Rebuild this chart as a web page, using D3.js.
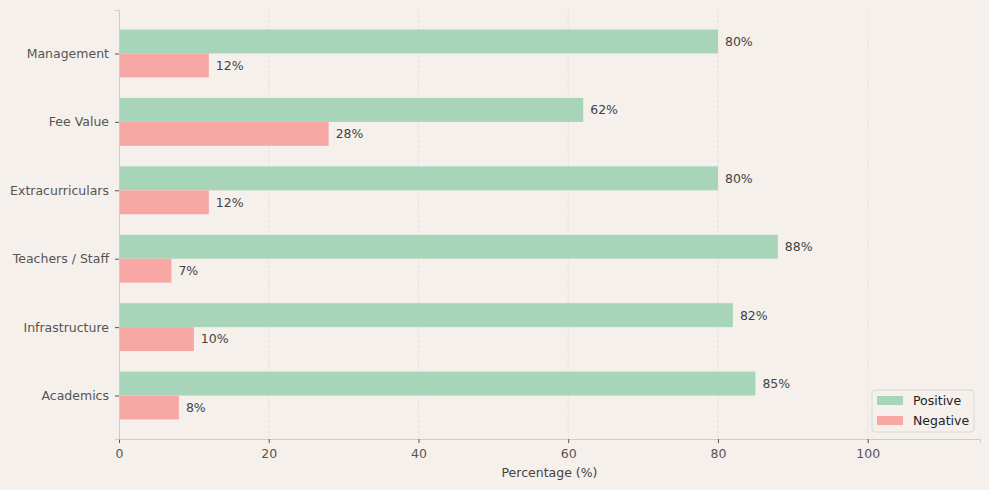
<!DOCTYPE html>
<meta charset="utf-8">
<title>Sentiment by Category</title>
<script src="https://cdn.jsdelivr.net/npm/d3@7"></script>
<style>
  html,body{margin:0;background:#f5f0eb;font-family:"DejaVu Sans",sans-serif}
  svg{display:block}
  .tick text{font-size:12.5px;fill:#555}
  .lbl{font-size:12.5px;fill:#444}
</style>
<svg width="989" height="490"></svg>
<script>
// data, bottom to top like the reference
const categories = ['Academics','Infrastructure','Teachers / Staff','Extracurriculars','Fee Value','Management'];
const positive   = [85, 82, 88, 80, 62, 80];
const negative   = [8, 10, 7, 12, 28, 12];
const xTicks     = [0, 20, 40, 60, 80, 100];

const W = 989, H = 490;
const m = {l:119, r:9, t:10, b:51};
const bh = 0.35;

const svg = d3.select('svg');
const x = d3.scaleLinear().domain([0,115]).range([m.l, W-m.r]);
// index scale, matplotlib style margins
const y = d3.scaleLinear().domain([-0.635, categories.length-1+0.635]).range([H-m.b, m.t]);

// grid
svg.append('g').selectAll('line').data(xTicks.slice(1)).join('line')
  .attr('x1',d=>x(d)).attr('x2',d=>x(d)).attr('y1',m.t).attr('y2',H-m.b)
  .attr('stroke','#e0dcdc').attr('stroke-dasharray','3,2').attr('stroke-width',0.8);

const rows = categories.map((c,i)=>({c,i,p:positive[i],n:negative[i]}));
const ppx = Math.abs(y(0)-y(bh));

// positive bars (upper)
svg.append('g').selectAll('rect').data(rows).join('rect')
  .attr('x',x(0)).attr('y',d=>y(d.i+bh))
  .attr('width',d=>x(d.p)-x(0)).attr('height',ppx)
  .attr('fill','#a8d5ba');
// negative bars (lower)
svg.append('g').selectAll('rect').data(rows).join('rect')
  .attr('x',x(0)).attr('y',d=>y(d.i))
  .attr('width',d=>x(d.n)-x(0)).attr('height',ppx)
  .attr('fill','#f7a8a4');

// value labels
svg.append('g').selectAll('text').data(rows).join('text')
  .attr('class','lbl').attr('x',d=>x(d.p)+7).attr('y',d=>y(d.i+bh/2))
  .attr('dy','0.35em').text(d=>d.p+'%');
svg.append('g').selectAll('text').data(rows).join('text')
  .attr('class','lbl').attr('x',d=>x(d.n)+7).attr('y',d=>y(d.i-bh/2))
  .attr('dy','0.35em').text(d=>d.n+'%');

// axes
const gx = svg.append('g').attr('transform',`translate(0,${H-m.b})`)
  .call(d3.axisBottom(x).tickValues(xTicks).tickSize(4).tickPadding(6));
gx.select('.domain').attr('stroke','#cccccc');
gx.selectAll('.tick line').attr('stroke','#555');

const gy = svg.append('g').attr('transform',`translate(${m.l},0)`)
  .call(d3.axisLeft(y).tickValues(d3.range(categories.length)).tickFormat(i=>categories[i]).tickSize(4).tickPadding(6));
gy.select('.domain').attr('stroke','#cccccc');
gy.selectAll('.tick line').attr('stroke','#555');
svg.selectAll('.tick text').attr('font-family','DejaVu Sans');

svg.append('text').attr('x',(m.l+W-m.r)/2).attr('y',477)
  .attr('text-anchor','middle').attr('font-size',12.5).attr('fill','#444')
  .text('Percentage (%)');

// legend
const lg = svg.append('g').attr('transform','translate(872,390)');
lg.append('rect').attr('width',102).attr('height',42).attr('rx',3)
  .attr('fill','#f5f0eb').attr('stroke','#d8d8d8');
const items = [['Positive','#a8d5ba'],['Negative','#f7a8a4']];
items.forEach(([t,c],k)=>{
  lg.append('rect').attr('x',5).attr('y',6+k*20).attr('width',26).attr('height',9).attr('fill',c);
  lg.append('text').attr('x',41).attr('y',11+k*20).attr('dy','0.35em')
    .attr('font-size',12.5).attr('fill','#222').text(t);
});
</script>
